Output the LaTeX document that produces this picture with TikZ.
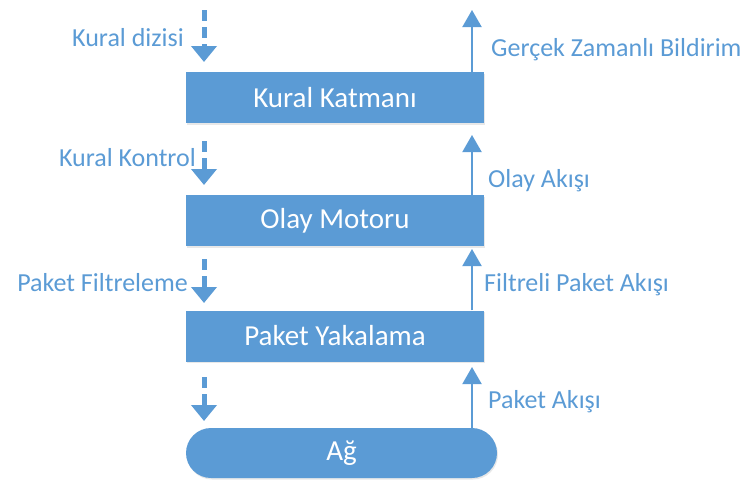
\documentclass[tikz,border=0pt]{standalone}
\usepackage{fontspec}
\setmainfont{Carlito}
\usetikzlibrary{arrows.meta,shadows}
\definecolor{layerblue}{HTML}{5B9BD5}
\begin{document}
\begin{tikzpicture}[x=1pt,y=-1pt,
  layerbox/.style={fill=layerblue, draw=none, text=white,
    font=\fontsize{29}{33}\selectfont, minimum width=298pt,
    minimum height=51pt, inner sep=0pt,
    drop shadow={opacity=0.18, shadow xshift=1pt, shadow yshift=-1.5pt}},
  netbox/.style={layerbox, minimum width=311pt, minimum height=50pt,
    rounded corners=25pt},
  lbl/.style={text=layerblue, font=\fontsize{26}{30}\selectfont, inner sep=0pt},
  downflow/.style={draw=layerblue, line width=5pt, dash pattern=on 11pt off 6pt,
    -{Triangle[width=25pt,length=16pt]}},
  upflow/.style={draw=layerblue, line width=2pt,
    -{Triangle[width=19pt,length=17pt]}}
]
\useasboundingbox (0,0) rectangle (746,482);

% layers
\node[layerbox] (rules)   at (335,97.5)  {Kural Katmanı};
\node[layerbox] (engine)  at (335,220.5) {Olay Motoru};
\node[layerbox] (capture) at (335,336)   {Paket Yakalama};
\node[netbox]   (net)     at (341.5,453) {Ağ};

% downward control flow (dashed)
\coordinate (d1a) at (204,10);  \coordinate (d1b) at (204,62);
\coordinate (d2a) at (204,141); \coordinate (d2b) at (204,185);
\coordinate (d3a) at (204,259); \coordinate (d3b) at (204,303);
\coordinate (d4a) at (204,377); \coordinate (d4b) at (204,421);
\draw[downflow] (d1a) -- (d1b);
\draw[downflow] (d2a) -- (d2b);
\draw[downflow] (d3a) -- (d3b);
\draw[downflow] (d4a) -- (d4b);

% upward data flow
\coordinate (u1) at (472,10);
\coordinate (u2) at (472,135);
\coordinate (u3) at (472,249);
\coordinate (u4) at (472,367);
\draw[upflow] (rules.north -| u1)   -- (u1);
\draw[upflow] (engine.north -| u2)  -- (u2);
\draw[upflow] (capture.north -| u3) -- (u3);
\draw[upflow] (net.north -| u4)     -- (u4);

% labels
\node[lbl, anchor=east] (l1) at (184,38)  {Kural dizisi};
\node[lbl, anchor=east] (l2) at (196,158) {Kural Kontrol};
\node[lbl, anchor=east] (l3) at (188,283) {Paket Filtreleme};
\node[lbl, anchor=west] (r1) at (491,50)  {Gerçek Zamanlı Bildirim};
\node[lbl, anchor=west] (r2) at (488,181) {Olay Akışı};
\node[lbl, anchor=west] (r3) at (484,285) {Filtreli Paket Akışı};
\node[lbl, anchor=west] (r4) at (488,402) {Paket Akışı};
\end{tikzpicture}
\end{document}
